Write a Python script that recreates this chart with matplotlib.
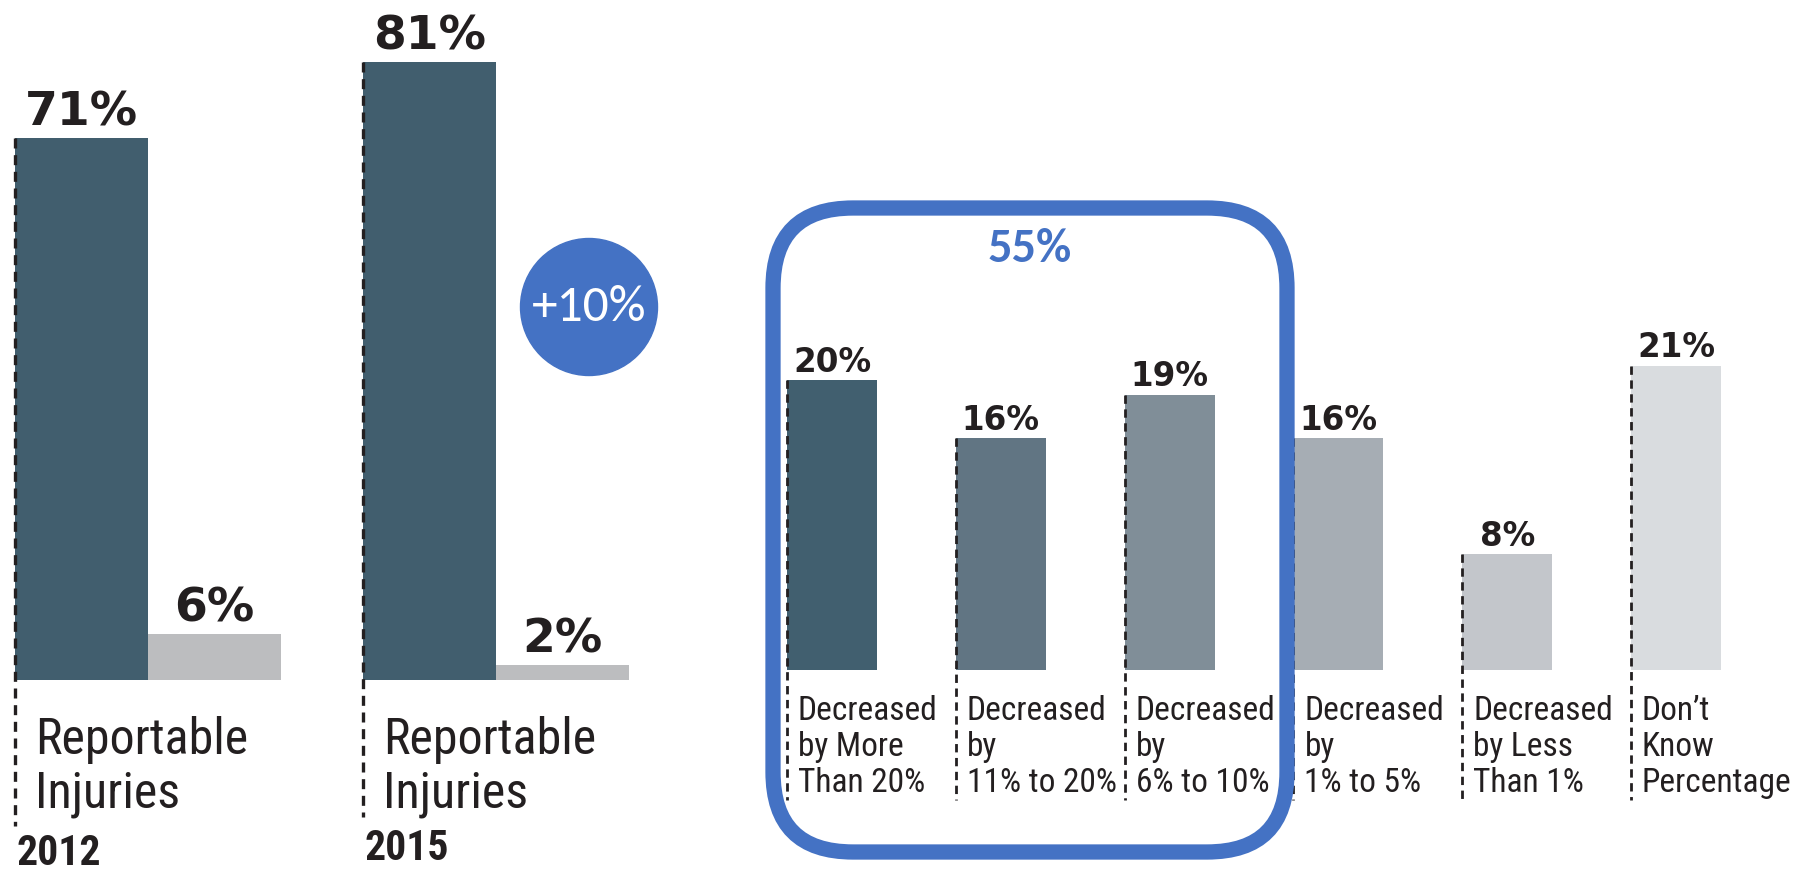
import numpy as np
import matplotlib
matplotlib.use("Agg")
import matplotlib.pyplot as plt
from matplotlib import font_manager as fm
from matplotlib.patches import FancyBboxPatch, Ellipse

# ---- data ----
years = ["2012", "2015"]
reportable = [71, 81]
other = [6, 2]
left_label = "Reportable\nInjuries"

categories = ["Decreased\nby More\nThan 20%",
              "Decreased\nby\n11% to 20%",
              "Decreased\nby\n6% to 10%",
              "Decreased\nby\n1% to 5%",
              "Decreased\nby Less\nThan 1%",
              "Don\u2019t\nKnow\nPercentage"]
shares = [20, 16, 19, 16, 8, 21]

# ---- style ----
dark = "#415e6e"
light = "#bcbdbf"
bar_colors = ["#415f6f", "#617583", "#808e98", "#a6adb4", "#c3c6cb", "#d9dcdf"]
blue = "#4472c4"
ink = "#231f20"

available = {f.name for f in fm.fontManager.ttflist}


def pick(*names):
    for n in names:
        if n in available:
            return n
    return None


# condensed face for the category labels, else a plain one a bit smaller
narrow = pick("Roboto Condensed", "Archivo Narrow", "Liberation Sans Narrow")
shrink = 1.0
if narrow is None:
    narrow = "Roboto"
    shrink = 0.86
narrow = [narrow, "DejaVu Sans"]
heavy = ["DejaVu Sans"]
calib = [pick("Carlito", "Open Sans") or "DejaVu Sans", "DejaVu Sans"]
calib_scale = 1.12 if calib[0] == "Carlito" else 1.0

W, H = 1799, 873
fig = plt.figure(figsize=(W / 100, H / 100), dpi=100, facecolor="white")

# ---------- left panel ----------
ax1 = fig.add_axes([0, 0, 700 / W, 1])
ax1.axis("off")
# pixel layout helpers (px from left / from top of the figure)
lx = lambda px: (px - 148) / 348
ly = lambda py: (680 - py) / 7.634
ax1.set_xlim(lx(0), lx(700))
ax1.set_ylim(ly(H), ly(0))

bw = 133 / 348
x = np.arange(len(years))
ax1.bar(x - bw / 2, reportable, bw, color=dark, zorder=2)
ax1.bar(x + bw / 2, other, bw, color=light, zorder=2)

for xi, v in list(zip(x - bw / 2, reportable)) + list(zip(x + bw / 2, other)):
    ax1.annotate(f"{v}%", (xi, v), xytext=(0, 9), textcoords="offset points",
                 ha="center", va="baseline", fontsize=34, weight="bold",
                 family=heavy, color=ink)

dash_end = [ly(826), ly(817)]
year_base = [ly(865), ly(860)]
for i, (xi, v) in enumerate(zip(x - bw, reportable)):
    ax1.plot([xi, xi], [v, dash_end[i]], color=ink, lw=2.4, ls=(0, (3, 2)), zorder=3)
    for k, line in enumerate(left_label.split("\n")):
        ax1.text(xi + 20 / 348, ly(754 + 53 * k), line, fontsize=36 * shrink,
                 family=narrow, va="baseline", ha="left", color=ink)
    ax1.text(xi + 2 / 348, year_base[i], years[i], fontsize=30 * shrink,
             family=narrow, weight="bold", va="baseline", ha="left", color=ink)

diff = reportable[1] - reportable[0]
ax1.add_patch(Ellipse((lx(589), ly(307)), 137 / 348, 137 / 7.634, color=blue, zorder=5))
ax1.text(lx(589), ly(307), f"+{diff}%", ha="center", va="center",
         fontsize=33 * calib_scale, family=calib, color="white", zorder=6)

# ---------- right panel ----------
ax2 = fig.add_axes([700 / W, 0, 1099 / W, 1])
ax2.axis("off")
rx = lambda px: (px - 832) / 168.8
ry = lambda py: (670 - py) / 14.5
ax2.set_xlim(rx(700), rx(W))
ax2.set_ylim(ry(H), ry(0))

rw = 90 / 168.8
xr = np.arange(len(categories))
ax2.bar(xr, shares, rw, color=bar_colors, zorder=2)

for i, v in enumerate(shares):
    ax2.annotate(f"{v}%", (xr[i], v), xytext=(0, 6), textcoords="offset points",
                 ha="center", va="baseline", fontsize=23.5, weight="bold",
                 family=heavy, color=ink)
    left = xr[i] - rw / 2
    ax2.plot([left, left], [v, ry(800)], color=ink, lw=2.0, ls=(0, (3, 2)), zorder=3)
    for k, line in enumerate(categories[i].split("\n")):
        ax2.text(left + 11 / 168.8, ry(720 + 36 * k), line, fontsize=24 * shrink,
                 family=narrow, va="baseline", ha="left", color=ink)

box = FancyBboxPatch((rx(773), ry(852)), rx(1287) - rx(773), ry(208) - ry(852),
                     boxstyle=f"round,pad=0,rounding_size={80 / 168.8}",
                     mutation_aspect=168.8 / 14.5, fill=False, ec=blue, lw=11,
                     zorder=6)
ax2.add_patch(box)
ax2.text(rx(1030), ry(249), f"{sum(shares[:3])}%", ha="center", va="center",
         fontsize=31 * calib_scale, weight="bold", family=calib, color=blue, zorder=7)

fig.savefig("out.png", dpi=100, facecolor="white")
